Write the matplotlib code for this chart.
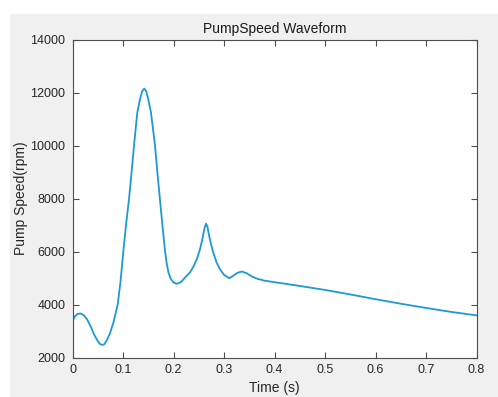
import matplotlib
matplotlib.use("Agg")
import matplotlib.pyplot as plt
from matplotlib.patches import Rectangle

time_s = [0.000, 0.005, 0.010, 0.016, 0.022, 0.029, 0.036, 0.043, 0.050, 0.055,
          0.059, 0.063, 0.068, 0.074, 0.081, 0.0895, 0.095, 0.1006, 0.106, 0.112,
          0.117, 0.1218, 0.1283, 0.1337, 0.138, 0.1422, 0.146, 0.150, 0.1554,
          0.1634, 0.168, 0.173, 0.178, 0.183, 0.1865, 0.190, 0.194, 0.200, 0.2065,
          0.215, 0.2235, 0.2327, 0.240, 0.247, 0.2525, 0.257, 0.261, 0.2644, 0.267,
          0.270, 0.274, 0.2788, 0.285, 0.292, 0.300, 0.3105, 0.318, 0.326, 0.335,
          0.345, 0.355, 0.3647, 0.380, 0.4043, 0.450, 0.500, 0.550, 0.600, 0.650,
          0.700, 0.750, 0.800]
speed_rpm = [3380, 3560, 3645, 3660, 3600, 3440, 3170, 2860, 2620, 2500,
             2475, 2500, 2650, 2900, 3320, 4000, 4850, 6000, 7000, 8000,
             9000, 10000, 11245, 11750, 12050, 12150, 12050, 11750, 11245,
             10000, 9000, 8000, 7000, 6050, 5550, 5210, 4990, 4830, 4780,
             4850, 5030, 5210, 5450, 5750, 6090, 6450, 6850, 7050, 6950,
             6650, 6300, 5960, 5600, 5330, 5120, 4990, 5080, 5190, 5245,
             5180, 5060, 4980, 4900, 4830, 4700, 4550, 4380, 4200, 4030,
             3870, 3720, 3590]

x_ticks = [0, 0.1, 0.2, 0.3, 0.4, 0.5, 0.6, 0.7, 0.8]
x_labels = ["0", "0.1", "0.2", "0.3", "0.4", "0.5", "0.6", "0.7", "0.8"]
y_ticks = [2000, 4000, 6000, 8000, 10000, 12000, 14000]

plt.rcParams['font.family'] = ['Liberation Sans', 'DejaVu Sans']

fig = plt.figure(figsize=(4.98, 3.97), dpi=100, facecolor='white')
fig.patches.append(Rectangle((10/498, 0), 1 - 10/498, (397 - 14)/397,
                             transform=fig.transFigure, facecolor='#f0f0f0',
                             edgecolor='none', zorder=-10))

ax = fig.add_axes([72.5/498, 39.5/397, 404/498, 318/397])
ax.set_facecolor('white')
ax.plot(time_s, speed_rpm, color='#1a9ad6', linewidth=1.3,
        solid_joinstyle='round', solid_capstyle='round')
ax.set_xlim(0, 0.8)
ax.set_ylim(2000, 14000)
ax.set_xticks(x_ticks)
ax.set_xticklabels(x_labels)
ax.set_yticks(y_ticks)
axc = '#4d4d4d'
ax.tick_params(direction='in', length=4, width=0.8, top=True, right=True,
               colors=axc, labelsize=9, labelcolor='#262626', pad=5)
for s in ax.spines.values():
    s.set_color(axc)
    s.set_linewidth(0.8)
ax.set_xlabel("Time (s)", fontsize=10, color='#262626', labelpad=3)
ax.set_ylabel("Pump Speed(rpm)", fontsize=10, color='#262626', labelpad=2)
ax.set_title("PumpSpeed Waveform", fontsize=10, color='#1a1a1a', pad=5)

fig.savefig("out.png", dpi=100, facecolor=fig.get_facecolor())
